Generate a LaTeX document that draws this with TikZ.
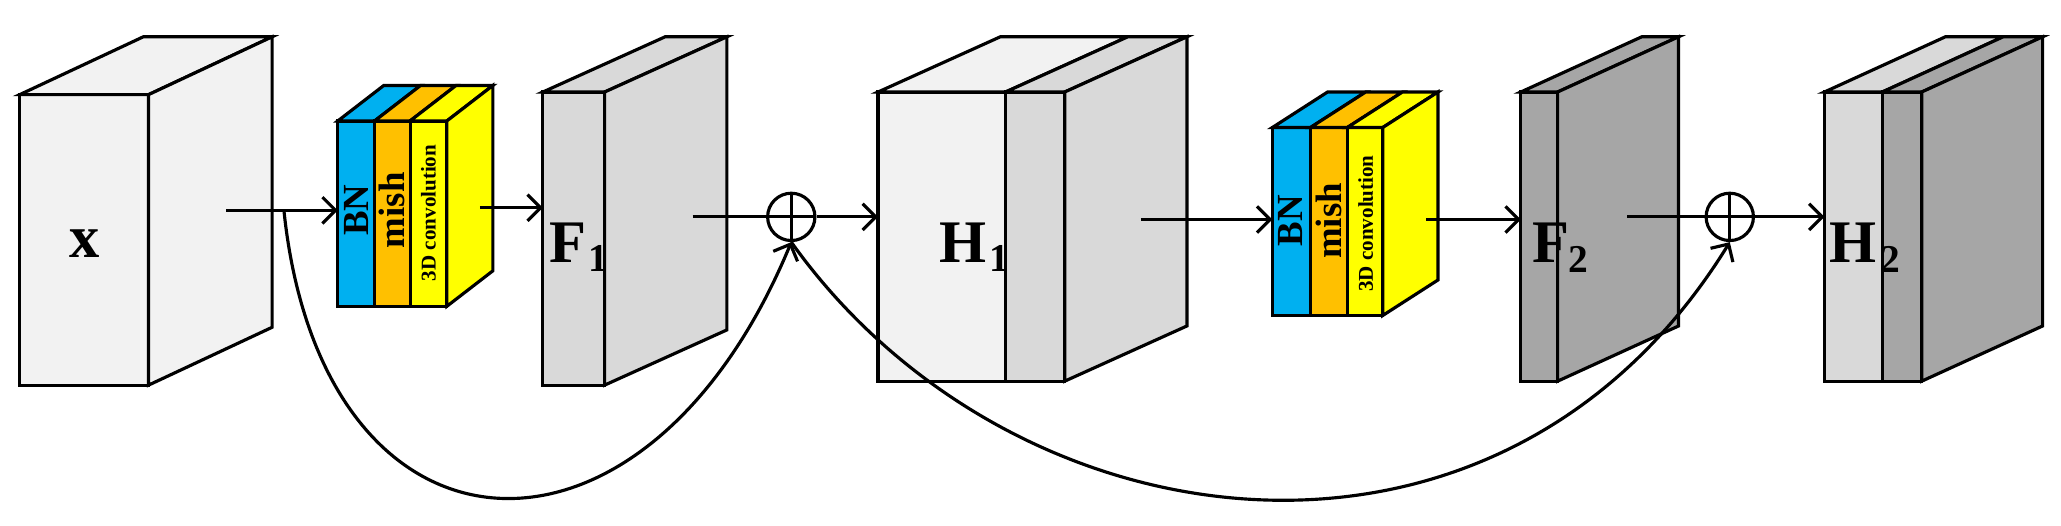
\documentclass[tikz,border=0pt]{standalone}
\usepackage{fontspec}
\setmainfont{Liberation Serif}
\usetikzlibrary{arrows.meta}
\definecolor{cA}{HTML}{F2F2F2}
\definecolor{cB}{HTML}{D9D9D9}
\definecolor{cC}{HTML}{A6A6A6}
\definecolor{cBN}{HTML}{00B0F0}
\definecolor{cMi}{HTML}{FFC000}
\definecolor{cCv}{HTML}{FFFF00}
% slab: a b top bot dx dy color
\newcommand\myslab[7]{%
  \filldraw[fill=#7] (#1,#4) rectangle (#2,#3);
  \filldraw[fill=#7] (#1,#3)--++(#5,#6)--++(#2-#1,0)--(#2,#3)--cycle;}
% side: b top bot dx dy color
\newcommand\myside[6]{%
  \filldraw[fill=#6] (#1,#2)--++(#4,#5)--++(0,#3-#2)--(#1,#3)--cycle;}
\begin{document}
\begin{tikzpicture}[x=1pt,y=-1pt,line width=2.4pt,line join=miter,
  lab/.style={font=\fontsize{46}{46}\selectfont\bfseries},
  sub/.style={font=\fontsize{30}{30}\selectfont\bfseries},
  vt/.style={rotate=90,font=\fontsize{#1}{#1}\selectfont\bfseries,inner sep=0},
  arr/.style={-{Straight Barb[length=10pt,width=20pt,line width=2.4pt]}},
  plus/.style={circle,draw,minimum size=36pt,inner sep=0,path picture={
    \draw (path picture bounding box.north)--(path picture bounding box.south)
      (path picture bounding box.west)--(path picture bounding box.east);}}]
\useasboundingbox (0,0) rectangle (1568,400);
% x
\myslab{15}{113}{72}{293}{94}{-44}{cA}
\myside{113}{72}{293}{94}{-44}{cA}
\node[lab] (tx) at (64,185) {x};
% block 1
\myslab{257}{285}{92}{233}{35}{-27}{cBN}
\myslab{285}{312}{92}{233}{35}{-27}{cMi}
\myslab{312}{340}{92}{233}{35}{-27}{cCv}
\myside{340}{92}{233}{35}{-27}{cCv}
\node[vt=28] (bn1) at (271,160) {BN};
\node[vt=28] (mi1) at (298,160) {mish};
\node[vt=16] (cv1) at (326,162) {3D convolution};
% F1
\myslab{413}{460}{70}{293}{93}{-42}{cB}
\myside{460}{70}{293}{93}{-42}{cB}
\node[lab] (tF1) at (432,185) {F};
\node[sub] (sF1) at (455,197) {1};
% plus 1
\node[plus] (p1) at (602,165) {};
% H1
\myslab{668}{765}{70}{290}{93}{-42}{cA}
\myslab{765}{810}{70}{290}{93}{-42}{cB}
\myside{810}{70}{290}{93}{-42}{cB}
\node[lab] (tH1) at (733,185) {H};
\node[sub] (sH1) at (760,197) {1};
% block 2
\myslab{968}{997}{97}{240}{42}{-27}{cBN}
\myslab{997}{1025}{97}{240}{42}{-27}{cMi}
\myslab{1025}{1052}{97}{240}{42}{-27}{cCv}
\myside{1052}{97}{240}{42}{-27}{cCv}
\node[vt=28] (bn2) at (982,168) {BN};
\node[vt=28] (mi2) at (1011,168) {mish};
\node[vt=16] (cv2) at (1039,170) {3D convolution};
% F2
\myslab{1157}{1185}{70}{290}{92}{-42}{cC}
\myside{1185}{70}{290}{92}{-42}{cC}
\node[lab] (tF2) at (1180,185) {F};
\node[sub] (sF2) at (1201,197) {2};
% plus 2
\node[plus] (p2) at (1316,165) {};
% H2
\myslab{1388}{1432}{70}{290}{92}{-42}{cB}
\myslab{1432}{1462}{70}{290}{92}{-42}{cC}
\myside{1462}{70}{290}{92}{-42}{cC}
\node[lab] (tH2) at (1410,185) {H};
\node[sub] (sH2) at (1438,197) {2};
% connectors
\coordinate (a0) at (172,160); \coordinate (a1) at (257,160);
\coordinate (b0) at (365,158); \coordinate (b1) at (413,158);
\coordinate (c0) at (527,165);
\coordinate (d1) at (668,165);
\coordinate (e0) at (868,167); \coordinate (e1) at (968,167);
\coordinate (f0) at (1085,167); \coordinate (f1) at (1157,167);
\coordinate (g0) at (1238,165);
\coordinate (h1) at (1388,165);
\coordinate (s1) at (216,160);
\draw[arr] (a0)--(a1);
\draw[arr] (b0)--(b1);
\draw (c0)--(p1.west);
\draw[arr] (p1.east)--(d1);
\draw[arr] (e0)--(e1);
\draw[arr] (f0)--(f1);
\draw (g0)--(p2.west);
\draw[arr] (p2.east)--(h1);
\draw[arr] (s1) .. controls (245,440) and (490,455) .. (p1.south);
\draw[arr] (p1.south) .. controls (770,420) and (1140,470) .. (p2.south);
\end{tikzpicture}
\end{document}
